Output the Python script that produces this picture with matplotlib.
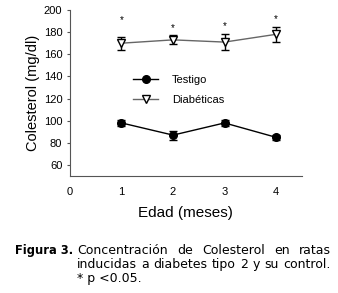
import matplotlib.pyplot as plt
from matplotlib.lines import Line2D

# Datos
meses = [1, 2, 3, 4]
testigo = [98, 87, 98, 85]
testigo_err = [3, 4, 3, 2]
diabeticas = [170, 173, 171, 178]
diabeticas_err = [6, 4, 7, 7]
asteriscos = [191, 184, 185, 192]

plt.rcParams['font.family'] = ['Liberation Sans', 'DejaVu Sans']

W, H = 338, 293
fig = plt.figure(figsize=(W / 100, H / 100), dpi=100)
ax = fig.add_axes([0.207, 0.399, 0.686, 0.567])

ax.errorbar(meses, testigo, yerr=testigo_err, color='black', marker='o',
            markersize=5.5, lw=1, capsize=3, elinewidth=1)
ax.errorbar(meses, diabeticas, yerr=diabeticas_err, color='#666666', marker='v',
            markersize=6, mfc='white', mec='black', lw=1, capsize=3,
            elinewidth=1, ecolor='black')
for x, y in zip(meses, asteriscos):
    ax.text(x, y, '*', ha='center', va='center', fontsize=7)

ax.set_xlim(0, 4.5)
ax.set_ylim(50, 200)
ax.set_xticks([0, 1, 2, 3, 4])
ax.set_yticks(range(60, 201, 20))
ax.tick_params(axis='both', labelsize=8, length=2, width=0.8, color='#555555')
ax.tick_params(axis='x', length=0, pad=8)
for s in ['top', 'right']:
    ax.spines[s].set_visible(False)
for s in ['left', 'bottom']:
    ax.spines[s].set_color('#555555')
    ax.spines[s].set_linewidth(0.8)

ax.set_xlabel('Edad (meses)', fontsize=11, labelpad=6)
ax.set_ylabel('Colesterol (mg/dl)', fontsize=10.5, labelpad=3)

handles = [Line2D([], [], color='black', marker='o', markersize=5.5, lw=1),
           Line2D([], [], color='#666666', marker='v', markersize=6,
                  mfc='white', mec='black', lw=1)]
ax.legend(handles, ['Testigo', 'Diabéticas'], loc='upper left',
          bbox_to_anchor=(0.23, 0.67), frameon=False, fontsize=8,
          handlelength=2.2, handletextpad=1.3, labelspacing=0.9)

# Pie de figura (texto justificado)
cap_font = dict(family='DejaVu Sans', va='baseline')
fig.text(73 / W, 1 - 254 / H, 'Figura 3.', ha='right', fontweight='bold',
         fontsize=8.3, **cap_font)
lineas = ['Concentración de Colesterol en ratas',
          'inducidas a diabetes tipo 2 y su control.',
          '* p <0.05.']
x0, x1 = 77, 331
renderer = fig.canvas.get_renderer()
for i, t in enumerate(lineas):
    yb = 1 - (254 + 14 * i) / H
    if i == len(lineas) - 1:
        fig.text(x0 / W, yb, t, fontsize=9, **cap_font)
        continue
    palabras = t.split()
    objs = [fig.text(0, yb, p, fontsize=9, **cap_font) for p in palabras]
    anchos = [o.get_window_extent(renderer).width for o in objs]
    gap = (x1 - x0 - sum(anchos)) / (len(palabras) - 1)
    x = x0
    for o, w in zip(objs, anchos):
        o.set_x(x / W)
        x += w + gap

fig.savefig('out.png', dpi=100)
